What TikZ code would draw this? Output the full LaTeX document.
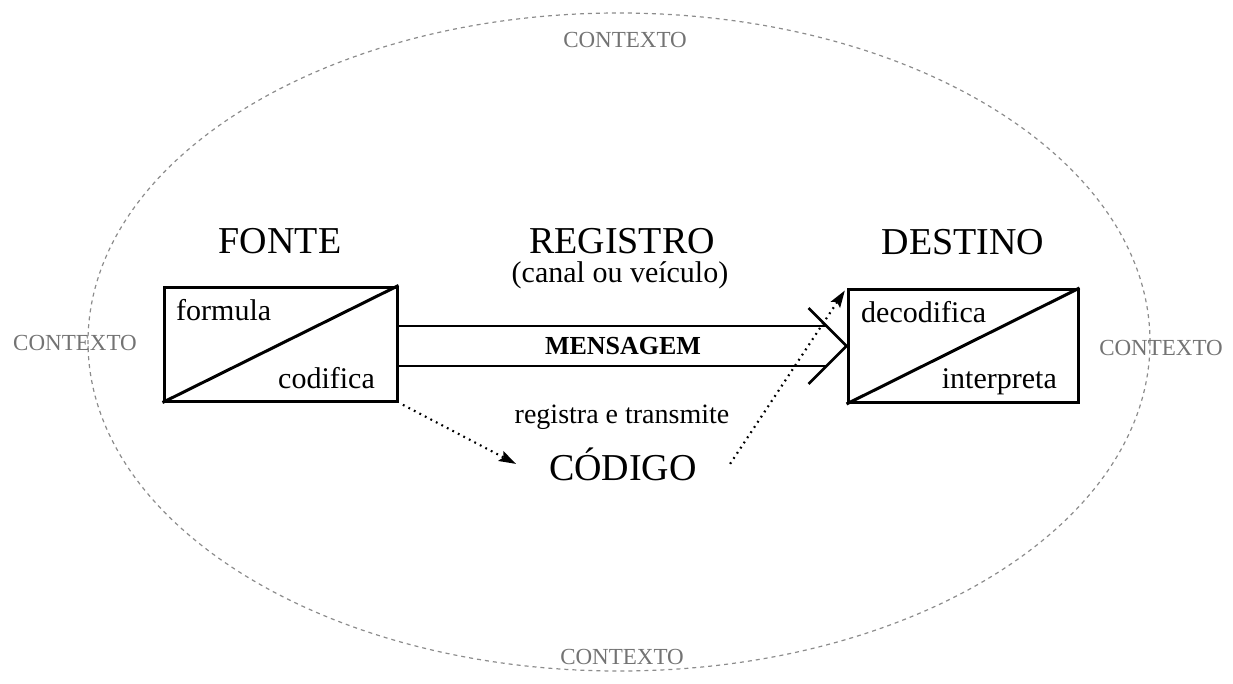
\documentclass[tikz,border=0pt]{standalone}
\usepackage{fontspec}
\setmainfont{Liberation Serif}
\usetikzlibrary{calc,arrows.meta,shapes.geometric}
\begin{document}
\begin{tikzpicture}[x=1pt,y=-1pt,
  box/.style={draw,line width=3pt,minimum width=233pt,minimum height=114pt,inner sep=0pt},
  diag/.style={line width=3pt},
  chan/.style={line width=2.6pt},
  title/.style={font=\fontsize{38}{40}\selectfont,inner sep=0pt,anchor=base},
  sub/.style={font=\fontsize{30}{32}\selectfont,inner sep=0pt,anchor=base},
  inbox/.style={font=\fontsize{30}{32}\selectfont,inner sep=0pt},
  ctxlabel/.style={font=\fontsize{23}{25}\selectfont,text=black!55,inner sep=0pt,anchor=base},
  ctxline/.style={draw=black!45,line width=1.2pt,dash pattern=on 4pt off 4pt},
  dotarrow/.style={line width=2.2pt,dash pattern=on 1.8pt off 4.4pt,
    -{Stealth[length=17pt,width=11pt,inset=3pt]}},
]
\useasboundingbox (0,0) rectangle (1233,683);

% context ellipse
\node[ctxline,ellipse,minimum width=1062pt,minimum height=658pt,inner sep=0pt] (ctx) at (619,342) {};
\node[ctxlabel] (ctxtop) at (625,47) {CONTEXTO};
\node[ctxlabel] (ctxbottom) at (622,664) {CONTEXTO};
\node[ctxlabel] (ctxleft) at (75,350) {CONTEXTO};
\node[ctxlabel] (ctxright) at (1161,355) {CONTEXTO};

% boxes
\node[box] (fonte) at (280.5,344) {};
\node[box,minimum width=230pt,minimum height=113pt] (destino) at (963,346) {};
\draw[diag] (fonte.south west) -- (fonte.north east);
\draw[diag] (destino.south west) -- (destino.north east);

% titles
\node[title] (tfonte) at (280,253) {FONTE};
\node[title] (tregistro) at (622,253) {REGISTRO};
\node[sub] (tcanal) at (620,282) {(canal ou veículo)};
\node[title] (tdestino) at (963,254) {DESTINO};

% box texts
\node[inbox,anchor=base west] (formula) at (176,320) {formula};
\node[inbox,anchor=base east] (codifica) at (375,388) {codifica};
\node[inbox,anchor=base west] (decodifica) at (861,322) {decodifica};
\node[inbox,anchor=base east] (interpreta) at (1057,388) {interpreta};

% channel (message arrow)
\coordinate (tip) at (destino.west);
\draw[chan] ($(fonte.east|-tip)+(0,-20)$) -- ($(tip)+(-20,-20)$);
\draw[chan] ($(fonte.east|-tip)+(0,20)$) -- ($(tip)+(-20,20)$);
\draw[chan] ($(tip)+(-38,-38)$) -- (tip) -- ($(tip)+(-38,38)$);
\node[font=\fontsize{26}{28}\selectfont\bfseries,inner sep=0pt,anchor=base] (msg) at (623,354) {MENSAGEM};

% code
\node[font=\fontsize{28}{30}\selectfont,inner sep=0pt,anchor=base] (regtrans) at (622,423) {registra e transmite};
\node[font=\fontsize{38}{40}\selectfont,inner ysep=0pt,inner xsep=33pt,anchor=base] (codigo) at (623,480) {CÓDIGO};

\draw[dotarrow,shorten <=5pt] (fonte.south east) -- (codigo.west);
\draw[dotarrow,shorten >=3pt] (codigo.east) -- (destino.north west);
\end{tikzpicture}
\end{document}
